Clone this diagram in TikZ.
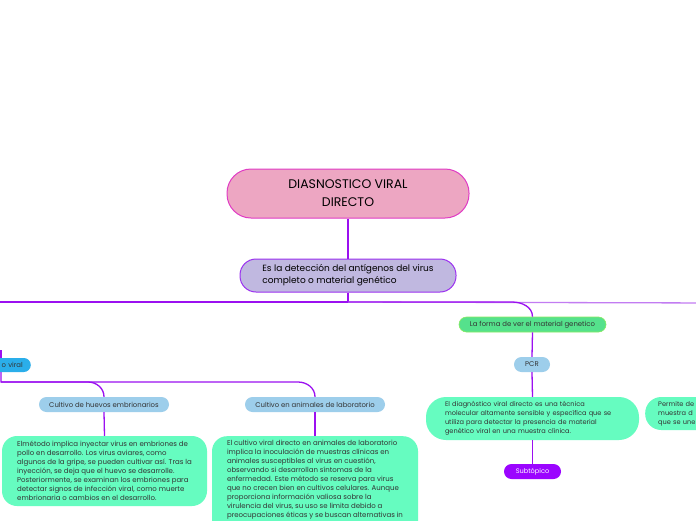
\documentclass[tikz,border=0pt]{standalone}
\usepackage{fontspec}
\setmainfont{Poppins}
\definecolor{linep}{HTML}{9B10F0}
\definecolor{linel}{HTML}{C27CF2}
\definecolor{pinkf}{HTML}{EDA6C2}
\definecolor{pinkd}{HTML}{E03CC4}
\definecolor{lavf}{HTML}{C0B8E0}
\definecolor{lavd}{HTML}{9B30F0}
\definecolor{mint}{HTML}{66FCC0}
\definecolor{greenf}{HTML}{55E18C}
\definecolor{lblue}{HTML}{9DCEEB}
\definecolor{dblue}{HTML}{2AAEEA}
\definecolor{purf}{HTML}{9B05FF}
\definecolor{txt}{HTML}{333333}
\tikzset{
  conn/.style={draw=linep, line width=1.3pt},
  connl/.style={draw=linel, line width=1.3pt},
  pill/.style={rectangle, inner sep=0pt, text=txt, font=\fontsize{6.9}{8}\selectfont},
  textbox/.style={rectangle, fill=mint, text=txt, align=left, inner xsep=0pt, inner ysep=0pt,
     font=\fontsize{7}{9}\selectfont},
}
\begin{document}
\begin{tikzpicture}[x=1pt,y=-1pt]
\useasboundingbox (0,0) rectangle (696,520);
\fill[white] (0,0) rectangle (696,520);

% nodes
\node[rectangle, fill=pinkf, draw=pinkd, line width=1pt, rounded corners=24pt,
  minimum width=242pt, minimum height=49pt, inner sep=0pt, align=center,
  font=\fontsize{12.5}{18}\selectfont, text=black] (main) at (348,193.5)
  {DIASNOSTICO VIRAL\\DIRECTO};
\node[rectangle, fill=lavf, draw=lavd, line width=1pt, rounded corners=16pt,
  inner sep=0pt, minimum width=216pt, minimum height=33pt, align=left,
  font=\fontsize{9}{12}\selectfont, text=black] (def) at (348,275.5)
  {Es la detección del antígenos del virus\\completo o material genético};

\node[pill, fill=greenf, draw=greenf!70!yellow, line width=0.6pt, rounded corners=7.5pt,
  minimum width=147pt, minimum height=15pt] (forma) at (532.5,324.5)
  {La forma de ver el material genetico};
\node[pill, fill=lblue, rounded corners=7.5pt, minimum width=36pt, minimum height=15pt]
  (pcr) at (532,364.5) {PCR};
\node[textbox, rounded corners=20pt, text width=175pt, inner xsep=19pt, minimum height=43pt,
  font=\fontsize{6.6}{9}\selectfont]
  (pcrbox) at (532.5,418.5)
  {El diagnóstico viral directo es una técnica\\
   molecular altamente sensible y específica que se\\
   utiliza para detectar la presencia de material\\
   genético viral en una muestra clínica.};
\node[pill, fill=purf, text=white, rounded corners=7.5pt, minimum width=57pt, minimum height=15pt,
  font=\fontsize{6.6}{8}\selectfont]
  (sub) at (532.5,471.5) {Subtópico};
\node[textbox, rounded corners=16pt, text width=180pt, inner xsep=13pt, minimum height=33pt,
  font=\fontsize{6.6}{9}\selectfont, anchor=west] (perm) at (645,413.5)
  {Permite de\\muestra d\\que se une};

\node[pill, fill=dblue, rounded corners=7pt, text width=83pt, inner xsep=8pt,
  minimum height=14pt, align=right, anchor=east] (cv) at (31,365)
  {o viral};
\node[pill, fill=lblue, rounded corners=7.5pt, minimum width=130pt, minimum height=15pt]
  (huevos) at (104,404.5) {Cultivo de huevos embrionarios};
\node[pill, fill=lblue, rounded corners=7.5pt, minimum width=140pt, minimum height=15pt]
  (anim) at (315,404.5) {Cultivo en animales de laboratorio};
\node[textbox, rounded corners=15pt, minimum width=205pt, minimum height=70pt]
  (box1) at (104.5,471)
  {Elmétodo implica inyectar virus en embriones de\\
   pollo en desarrollo. Los virus aviares, como\\
   algunos de la gripe, se pueden cultivar así. Tras la\\
   inyección, se deja que el huevo se desarrolle.\\
   Posteriormente, se examinan los embriones para\\
   detectar signos de infección viral, como muerte\\
   embrionaria o cambios en el desarrollo.};
\node[textbox, rounded corners=15pt, minimum width=206pt, inner ysep=4pt,
  anchor=north] (box2) at (315,436)
  {El cultivo viral directo en animales de laboratorio\\
   implica la inoculación de muestras clínicas en\\
   animales susceptibles al virus en cuestión,\\
   observando si desarrollan síntomas de la\\
   enfermedad. Este método se reserva para virus\\
   que no crecen bien en cultivos celulares. Aunque\\
   proporciona información valiosa sobre la\\
   virulencia del virus, su uso se limita debido a\\
   preocupaciones éticas y se buscan alternativas in\\[14pt]\mbox{}};

% connectors
\coordinate (hub) at (348,302);
\coordinate (offL) at (-20,302);
\coordinate (offR) at (720,303);
\coordinate (cvtop) at (1,350);
\coordinate (cvbot) at (1,382);
\draw[conn] (main.south) -- (def.north);
\draw[conn] (def.south) -- (hub);
\draw[conn] (hub) -- (offL);
\draw[connl] (hub) -- (offR);
\draw[conn] (hub) -- (512,302) to[out=0,in=90] (forma.north);
\draw[conn] (forma.south) -- (pcr.north);
\draw[conn] (pcr.south) -- (pcrbox.north);
\draw[conn] (pcrbox.south) -- (sub.north);
\draw[conn] (cvtop) -- (1,358);
\draw[conn] (1,372) -- (cvbot) -- (88,382) to[out=0,in=90] (huevos.north);
\draw[conn] (cvbot) -- (298,382) to[out=0,in=90] (anim.north);
\draw[conn] (huevos.south) -- (box1.north);
\draw[conn] (anim.south) -- (box2.north);
\end{tikzpicture}
\end{document}
